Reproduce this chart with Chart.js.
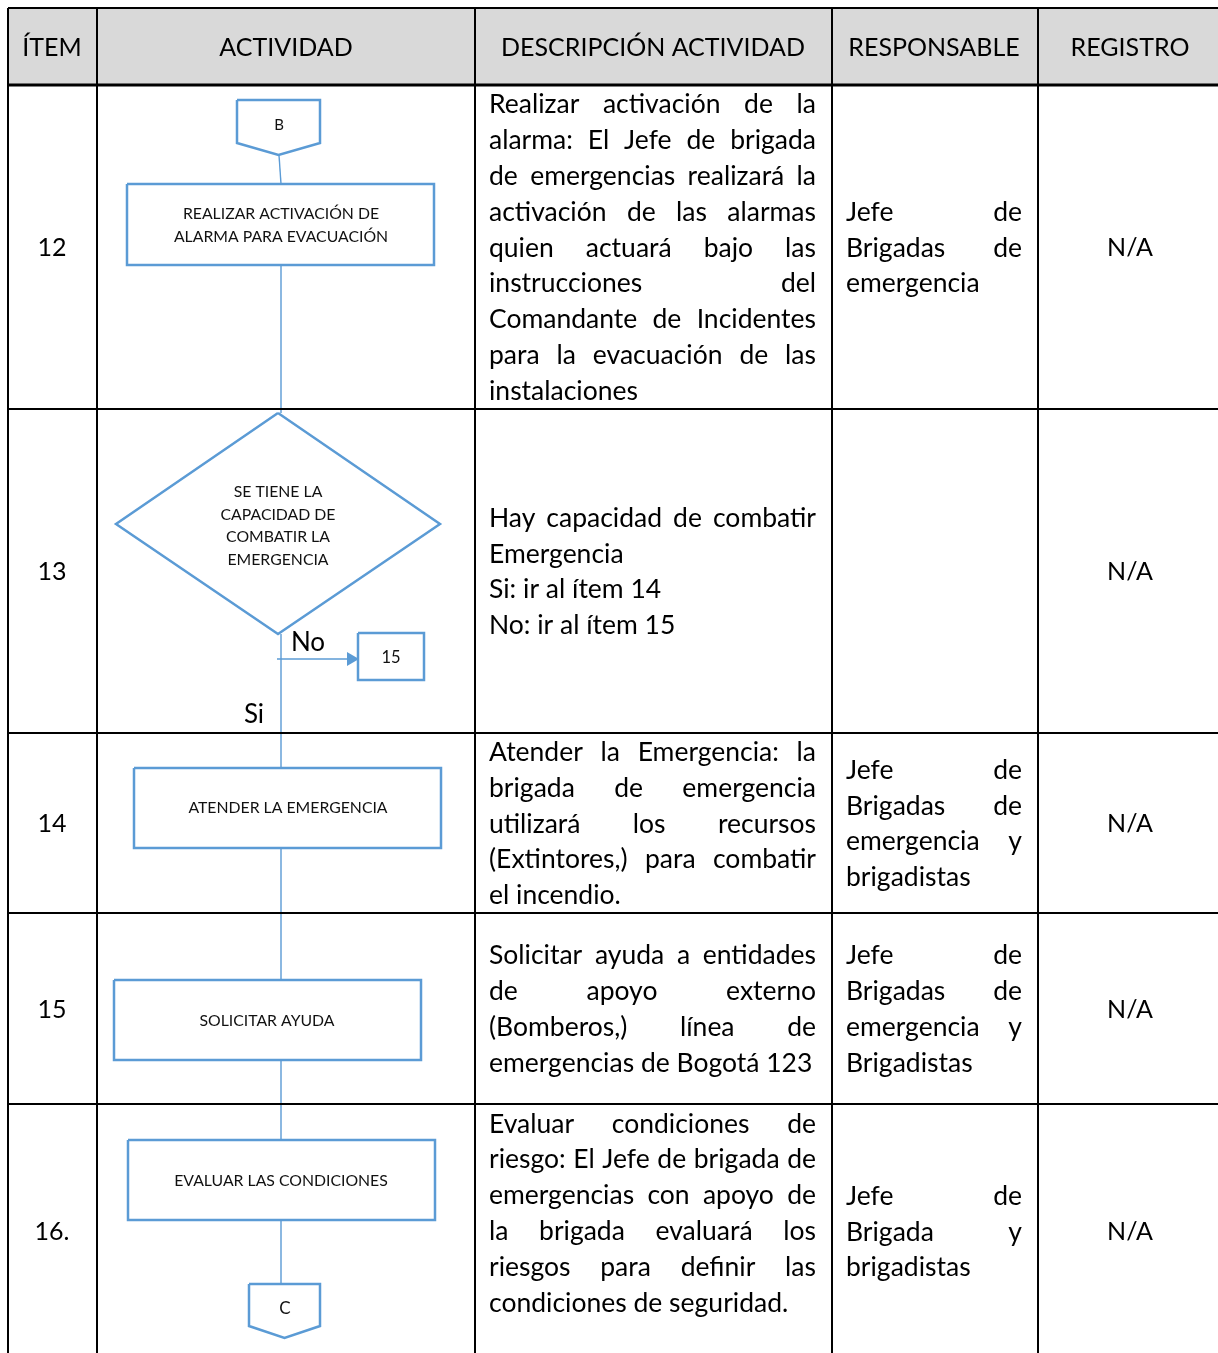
<!DOCTYPE html>
<html lang="es">
<head>
<meta charset="utf-8">
<title>Procedimiento de emergencia — ítems 12 a 16</title>
<script src="https://cdn.jsdelivr.net/npm/chart.js@4/dist/chart.umd.min.js"></script>
<style>
  html, body { margin: 0; padding: 0; background: #fff; }
  #wrap { width: 1218px; height: 1353px; }
</style>
</head>
<body>
<div id="wrap"><canvas id="tabla" width="1218" height="1353"></canvas></div>
<script>
// ─── Datos de la tabla ────────────────────────────────────────────────────────
const ENCABEZADOS = ['ÍTEM', 'ACTIVIDAD', 'DESCRIPCIÓN ACTIVIDAD', 'RESPONSABLE', 'REGISTRO'];
const ITEMS       = ['12', '13', '14', '15', '16.'];
const REGISTROS   = ['N/A', 'N/A', 'N/A', 'N/A', 'N/A'];

// Textos dentro de las figuras del diagrama (una entrada por fila)
const ACTIVIDADES = [
  ['REALIZAR ACTIVACIÓN DE', 'ALARMA PARA EVACUACIÓN'],
  ['SE TIENE LA', 'CAPACIDAD DE', 'COMBATIR LA', 'EMERGENCIA'],
  ['ATENDER LA EMERGENCIA'],
  ['SOLICITAR AYUDA'],
  ['EVALUAR LAS CONDICIONES'],
];

// Párrafos → líneas, cortadas igual que en el documento
const DESCRIPCIONES = [
  [['Realizar activación de la', 'alarma: El Jefe de brigada', 'de emergencias realizará la',
    'activación de las alarmas', 'quien actuará bajo las', 'instrucciones del',
    'Comandante de Incidentes', 'para la evacuación de las', 'instalaciones']],
  [['Hay capacidad de combatir', 'Emergencia'], ['Si: ir al ítem 14'], ['No: ir al ítem 15']],
  [['Atender la Emergencia: la', 'brigada de emergencia', 'utilizará los recursos',
    '(Extintores,) para combatir', 'el incendio.']],
  [['Solicitar ayuda a entidades', 'de apoyo externo', '(Bomberos,) línea de',
    'emergencias de Bogotá 123']],
  [['Evaluar condiciones de', 'riesgo: El Jefe de brigada de', 'emergencias con apoyo de',
    'la brigada evaluará los', 'riesgos para definir las', 'condiciones de seguridad.']],
];

const RESPONSABLES = [
  [['Jefe de', 'Brigadas de', 'emergencia']],
  [],
  [['Jefe de', 'Brigadas de', 'emergencia y', 'brigadistas']],
  [['Jefe de', 'Brigadas de', 'emergencia y', 'Brigadistas']],
  [['Jefe de', 'Brigada y', 'brigadistas']],
];

const CONNECTOR_IN  = 'B';
const CONNECTOR_OUT = 'C';
const SALTO_NO      = '15';
const ETIQ_NO       = 'No';
const ETIQ_SI       = 'Si';

// ─── Maquetación (unidades = escala del gráfico) ──────────────────────────────
const COL_X = [8, 97, 475, 832, 1038, 1230];
const ROW_Y = [8, 85, 409, 733, 913, 1104, 1358];
const DESC_TOP = [null, null, null, null, 1124];   // fila 16: alineada arriba
const LINE_H = 35.8;
const BODY_PX = 26.5;

const AZUL  = '#5b9bd5';
const FONT  = 'Lato, "Open Sans", sans-serif';

// Figuras del diagrama de flujo
const FIG = {
  conIn:  { x0: 237, x1: 320, y0: 100, y1: 143, tip: 155 },
  rect12: { x0: 127, x1: 434, y0: 184, y1: 265 },
  rombo:  { cx: 278, cy: 524, dx: 162, top: 413, bot: 634 },
  caja15: { x0: 358, x1: 424, y0: 633, y1: 680 },
  rect14: { x0: 134, x1: 441, y0: 768, y1: 848 },
  rect15: { x0: 114, x1: 421, y0: 980, y1: 1060 },
  rect16: { x0: 128, x1: 435, y0: 1140, y1: 1220 },
  conOut: { x0: 249, x1: 320, y0: 1284, y1: 1326, tip: 1338 },
};
const EJE_X = 281;

// ─── Construcción de datasets ─────────────────────────────────────────────────
const seg = (pts, color, width) => ({
  data: pts.map(([x, y]) => ({ x, y })),
  showLine: true, borderColor: color, borderWidth: width,
  pointRadius: 0, fill: false, tension: 0, order: 1,
});
const rect = r => [[r.x0, r.y0], [r.x1, r.y0], [r.x1, r.y1], [r.x0, r.y1], [r.x0, r.y0]];
const conector = c => {
  const m = (c.x0 + c.x1) / 2;
  return [[c.x0, c.y0], [c.x1, c.y0], [c.x1, c.y1], [m, c.tip], [c.x0, c.y1], [c.x0, c.y0]];
};

const datasets = [];

// Relleno del encabezado
datasets.push({
  data: [{ x: COL_X[0], y: ROW_Y[1] }, { x: COL_X[5], y: ROW_Y[1] }],
  showLine: true, borderWidth: 0, pointRadius: 0,
  fill: { value: ROW_Y[0] }, backgroundColor: '#d9d9d9', order: 5,
});

// Rejilla
const yMax = 1353;
COL_X.slice(0, 5).forEach(x => datasets.push(seg([[x, ROW_Y[0]], [x, yMax]], '#000', 2)));
ROW_Y.slice(0, 6).forEach((y, i) =>
  datasets.push(seg([[COL_X[0], y], [COL_X[5], y]], '#000', i === 1 ? 3 : 2)));

// Conectores entre figuras
[
  [[EJE_X - 2, FIG.conIn.tip], [EJE_X, FIG.rect12.y0]],
  [[EJE_X, FIG.rect12.y1], [EJE_X, FIG.rombo.top]],
  [[EJE_X, FIG.rombo.bot], [EJE_X, FIG.rect14.y0]],
  [[EJE_X, FIG.rect14.y1], [EJE_X, FIG.rect15.y0]],
  [[EJE_X, FIG.rect15.y1], [EJE_X, FIG.rect16.y0]],
  [[EJE_X, FIG.rect16.y1], [EJE_X, FIG.conOut.y0]],
  [[EJE_X - 4, 659], [FIG.caja15.x0 - 8, 659]],
].forEach(p => datasets.push(seg(p, AZUL, 1.4)));

// Punta de flecha hacia la caja "15"
datasets.push({
  data: [{ x: FIG.caja15.x0 - 7, y: 659 }],
  pointStyle: 'triangle', rotation: 90, pointRadius: 8,
  pointBackgroundColor: AZUL, pointBorderColor: AZUL, borderWidth: 0, showLine: false, order: 0,
});

// Figuras
const r = FIG.rombo;
[
  conector(FIG.conIn), rect(FIG.rect12),
  [[r.cx, r.top], [r.cx + r.dx, r.cy], [r.cx, r.bot], [r.cx - r.dx, r.cy], [r.cx, r.top]],
  rect(FIG.caja15), rect(FIG.rect14), rect(FIG.rect15), rect(FIG.rect16), conector(FIG.conOut),
].forEach(p => datasets.push(seg(p, AZUL, 2.5)));

// ─── Plugin de textos ─────────────────────────────────────────────────────────
function texto(ctx, s, x, y, size, align = 'center') {
  ctx.font = `${size}px ${FONT}`;
  ctx.textAlign = align;
  ctx.textBaseline = 'middle';
  ctx.fillText(s, x, y);
}

// Dibuja párrafos justificados (la última línea de cada párrafo queda a la izquierda)
function parrafos(ctx, paras, x0, x1, yFirst, size) {
  ctx.font = `${size}px ${FONT}`;
  ctx.textBaseline = 'middle';
  ctx.textAlign = 'left';
  let y = yFirst;
  paras.forEach(lines => lines.forEach((line, i) => {
    const words = line.split(' ');
    const last = i === lines.length - 1;
    if (last || words.length < 2) {
      ctx.fillText(line, x0, y);
    } else {
      const w = words.reduce((a, s) => a + ctx.measureText(s).width, 0);
      const gap = (x1 - x0 - w) / (words.length - 1);
      let x = x0;
      words.forEach(s => { ctx.fillText(s, x, y); x += ctx.measureText(s).width + gap; });
    }
    y += LINE_H;
  }));
}

const nLineas = paras => paras.reduce((a, p) => a + p.length, 0);

const textos = {
  id: 'textos',
  afterDatasetsDraw(chart) {
    const { ctx, scales: { x: sx, y: sy } } = chart;
    const X = v => sx.getPixelForValue(v), Y = v => sy.getPixelForValue(v);
    ctx.save();
    ctx.fillStyle = '#000';

    // Encabezados
    const yHead = (ROW_Y[0] + ROW_Y[1]) / 2 + 1;
    const colC = [52, 286, 653, 934, 1130];
    ENCABEZADOS.forEach((h, i) => texto(ctx, h, X(colC[i]), Y(yHead), 25));

    ITEMS.forEach((it, i) => {
      const yc = (ROW_Y[i + 1] + ROW_Y[i + 2]) / 2;
      texto(ctx, it, X(colC[0]), Y(yc + 1), 25);
      texto(ctx, REGISTROS[i], X(colC[4]), Y(yc + 1), 25);

      const d = DESCRIPCIONES[i];
      const dTop = DESC_TOP[i] ?? (yc + 1 - (nLineas(d) - 1) * LINE_H / 2);
      parrafos(ctx, d, X(489), X(816), Y(dTop), BODY_PX);

      const rsp = RESPONSABLES[i];
      if (rsp.length) {
        const rTop = yc + 1 - (nLineas(rsp) - 1) * LINE_H / 2;
        parrafos(ctx, rsp, X(846), X(1022), Y(rTop), BODY_PX);
      }
    });

    // Textos del diagrama
    ctx.fillStyle = '#111';
    texto(ctx, CONNECTOR_IN, X(279), Y(125), 15);
    const f = [
      [FIG.rect12, 281, 225, 23],
      [FIG.rombo, 278, 526, 22.7],
      [FIG.rect14, 288, 808, 0],
      [FIG.rect15, 267, 1021, 0],
      [FIG.rect16, 281, 1181, 0],
    ];
    ACTIVIDADES.forEach((lines, i) => {
      const [, cx, cy, lh] = f[i];
      const y0 = cy - (lines.length - 1) * lh / 2;
      lines.forEach((s, k) => texto(ctx, s, X(cx), Y(y0 + k * lh), 15.8));
    });
    texto(ctx, SALTO_NO, X(391), Y(658), 16.5);
    texto(ctx, CONNECTOR_OUT, X(285), Y(1309), 17);
    ctx.fillStyle = '#000';
    texto(ctx, ETIQ_NO, X(308), Y(643), 26);
    texto(ctx, ETIQ_SI, X(254), Y(715), 26);
    ctx.restore();
  },
};

// ─── Gráfico ──────────────────────────────────────────────────────────────────
new Chart(document.getElementById('tabla'), {
  type: 'scatter',
  data: { datasets },
  options: {
    responsive: false,
    animation: false,
    events: [],
    layout: { padding: 0, autoPadding: false },
    clip: false,
    scales: {
      x: { type: 'linear', min: 0, max: 1218, display: false },
      y: { type: 'linear', min: 0, max: 1353, reverse: true, display: false },
    },
    plugins: { legend: { display: false }, tooltip: { enabled: false } },
  },
  plugins: [textos],
});
</script>
</body>
</html>
